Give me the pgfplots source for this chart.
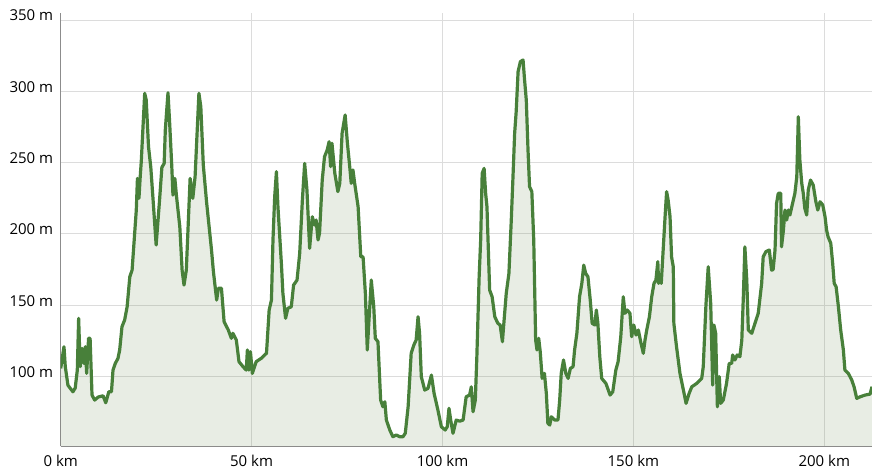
\documentclass[border=0pt]{standalone}
\usepackage{fontspec}
\setmainfont{Open Sans}
\usepackage{pgfplots}
\usepackage{pgfplotstable}
\pgfplotsset{compat=1.18}
\definecolor{lc}{RGB}{72,128,58}
\definecolor{fc}{RGB}{102,135,75}
\definecolor{gc}{RGB}{220,220,220}
\definecolor{ac}{RGB}{140,140,140}
\pgfplotstableread{
km m
0 105.8
0.86 121
1.2 107
1.9 94
3.2 89.4
3.8 92
4.35 104.6
4.7 140.9
5.1 107
5.6 119.8
6.1 109.3
6.45 121
6.8 102.3
7.3 126.9
7.7 126.9
8.2 87.1
8.9 83.6
9.8 85.7
11.1 86.6
11.8 81.7
12.6 89.4
13.3 89.4
13.7 104.6
14.3 109.3
15.0 112.8
15.45 118.7
16.05 135
16.75 139.7
17.4 149
18.1 170
18.7 174.7
19.8 216.8
20.1 239
20.5 225
20.8 239
21.1 250.7
22.0 298.6
22.4 294
23.0 261.2
23.6 246.7
24.2 223.8
25.0 192.3
25.9 224
26.5 246.7
27.1 249.5
27.4 272.9
28.1 299
28.5 279.9
29.1 247.2
29.4 227.3
29.9 239
30.3 227.3
31.2 205
31.8 174.7
32.3 164.2
32.9 174.7
33.9 239
34.6 225
35.2 240.2
36.2 298.6
36.7 289.2
37.35 248.4
38.2 222.6
39.5 188.8
40.0 173.6
40.85 153.7
41.3 161.9
42.1 162
42.8 138.5
43.9 132.7
44.7 126.9
45.1 130.4
46.0 125.7
46.7 110.5
47.75 107
48.6 104.6
48.9 118.7
49.3 104.6
49.7 117.5
50.2 102.3
51.2 110.5
52.5 112.8
53.9 116.4
54.6 146.7
55.2 153.7
55.6 195.8
56.05 226.1
56.5 243.7
56.9 219.1
57.8 179.4
58.2 158.4
58.9 140.9
59.5 147.9
60.4 149
61.0 164.2
61.9 167.7
62.6 186.4
63.3 223.8
63.9 249.5
64.5 230.8
65.2 190
65.9 212.1
66.5 206.3
66.9 209.8
67.4 195.8
67.8 200.5
68.5 237.8
69.1 254.2
69.8 258.9
70.3 264.7
70.7 247.2
71.05 263.6
71.8 242.5
72.6 229.7
73.1 235.5
73.7 270.6
74.5 283.4
75.1 263.6
75.7 247.2
76.1 235.5
76.55 244.9
77.0 235.5
77.9 219.1
78.6 184
79.2 184
79.8 158.4
80.3 118.7
80.7 137.4
81.35 167.7
82.0 149
82.4 126.9
83.1 124.5
83.8 83.6
84.4 78.9
84.9 82.4
85.3 69.6
86.2 62.6
87.0 57.9
87.9 59.1
88.8 57.9
89.65 57.9
90.25 60.3
91.0 78.9
91.4 97.6
91.8 116.4
92.5 122.2
93.1 125.7
93.6 142
94.0 130.4
94.45 100
95.35 90.6
96.2 91.8
97.1 101.1
97.8 88.3
98.8 76.6
99.7 64.9
100.7 62.6
101.25 64.9
101.7 77.8
102.15 69.6
102.75 60.3
103.6 69.6
104.5 68.8
105.4 69.6
106.2 85.9
107.1 87.1
107.55 92.9
108.0 75.4
108.6 83.6
109.0 114
109.6 170
110.0 195.8
110.4 242.5
110.9 246
111.3 228.5
111.65 219.1
112.35 160.7
113.0 156
113.7 142
114.5 137.4
115.1 136.2
115.7 124.5
116.0 135
116.7 158.4
117.4 172.4
118.0 208.6
118.5 242.5
118.9 270.6
119.3 285.7
119.8 313.8
120.4 320.8
121.1 322
121.5 308
121.95 293.9
122.4 258.9
122.8 233.2
123.4 229.7
123.9 195.8
124.4 125.7
124.75 118.7
125.2 126.9
125.6 117.5
126.1 98.8
126.7 102.3
127.2 88.3
127.6 67.3
128.1 66.1
128.5 71.9
129.4 69.6
130.25 69.6
130.7 83.6
131.1 102.3
131.7 111.7
132.3 102.3
132.9 98.8
133.5 105.8
134.2 107
134.6 118.7
135.2 130.4
135.9 156
136.5 165.4
137.0 178.2
137.5 172.4
138.1 170
138.7 153.7
139.2 137.4
139.9 136.2
140.3 146.7
140.7 137.4
141.2 114
141.7 98.8
142.8 95.3
143.9 87.1
144.6 89.4
145.4 104.6
146.0 110.5
146.7 128
147.35 156
147.8 144.4
148.4 146.7
149.1 144.4
149.55 128
150.1 136.2
150.7 129.2
151.3 132.7
152.0 123.4
152.6 116.4
153.05 125.7
153.5 132.7
154.2 142
154.8 156
155.4 165.4
155.9 167.7
156.4 180.6
156.6 165.4
157.0 168.9
157.3 165.4
157.8 188.8
158.3 212.1
158.7 229.7
159.1 223.8
159.6 212.1
160.0 184
160.45 177
160.6 137.4
161.3 121
162.2 102.3
163.1 90.6
163.8 81.3
164.6 88.3
165.3 92.9
166.6 95.3
167.9 98.8
168.3 107
169.0 150
169.6 177
170.25 151.4
170.77 94.1
171.1 136.2
171.55 130.4
172.0 78.9
172.5 100
172.86 81.3
173.55 83.6
174.4 95.3
175.1 109.3
175.75 109.3
176.0 115.2
176.6 111.7
177.2 115.2
177.9 114
178.4 125.7
178.8 156
179.2 191
179.7 167.7
180.1 132.7
181.0 130.4
181.85 137.4
182.7 144.4
183.6 165.4
184.0 184
184.7 187.6
185.6 188.8
186.2 174.7
186.6 175
187.1 188.8
187.5 221.5
187.95 228.5
188.6 228.5
188.8 191
189.3 202.8
189.7 216.8
190.15 209.8
190.6 216.8
191.0 213.3
191.7 221.5
192.3 228.5
192.8 240.2
193.2 282.2
193.6 251.9
194.1 235.5
194.5 228.5
194.9 218
195.4 213.3
195.8 230.8
196.4 237.8
197.1 234.3
197.8 222.6
198.3 216.8
198.9 222.6
199.6 220.3
200.2 212.1
200.6 202.8
201.0 198
201.7 193.5
202.2 179.4
202.6 165.4
203.1 163
203.7 149
204.3 132.7
205.0 118.7
205.4 104.6
206.3 102.3
207.2 97.6
207.8 92.9
208.5 84.8
209.4 85.9
210.7 87.1
212.0 87.8
212.5 93
}\elev
\begin{document}
\begin{tikzpicture}
\begin{axis}[
  scale only axis,
  width=811.3bp, height=432.7bp,
  xmin=0, xmax=212.5,
  ymin=51.4, ymax=354.7,
  axis lines*=left,
  axis line style={draw=ac, line width=1bp},
  every axis x line/.append style={-},
  every axis y line/.append style={-},
  grid=major,
  major grid style={draw=gc, line width=1bp},
  major tick length=0pt,
  tick style={draw=none},
  xtick={0,50,100,150,200},
  xticklabels={0 km,50 km,100 km,150 km,200 km},
  ytick={100,150,200,250,300,350},
  yticklabels={100 m,150 m,200 m,250 m,300 m,350 m},
  ticklabel style={font=\fontsize{15bp}{18bp}\selectfont, text=black},
  xticklabel style={anchor=base, inner sep=0pt, yshift=-20bp},
  yticklabel style={anchor=east, inner sep=0pt, xshift=-7.4bp, yshift=4.5bp},
  clip=true,
]
\addplot[draw=none, fill=fc, fill opacity=0.15] table[x=km, y=m] {\elev} \closedcycle;
\addplot[draw=lc, line width=3.2bp, line join=round, mark=none] table[x=km, y=m] {\elev};
\end{axis}
\pgfresetboundingbox
\path ([xshift=-60.7bp,yshift=-25bp]current axis.south west) rectangle ([yshift=13.3bp]current axis.north east);
\end{tikzpicture}
\end{document}
